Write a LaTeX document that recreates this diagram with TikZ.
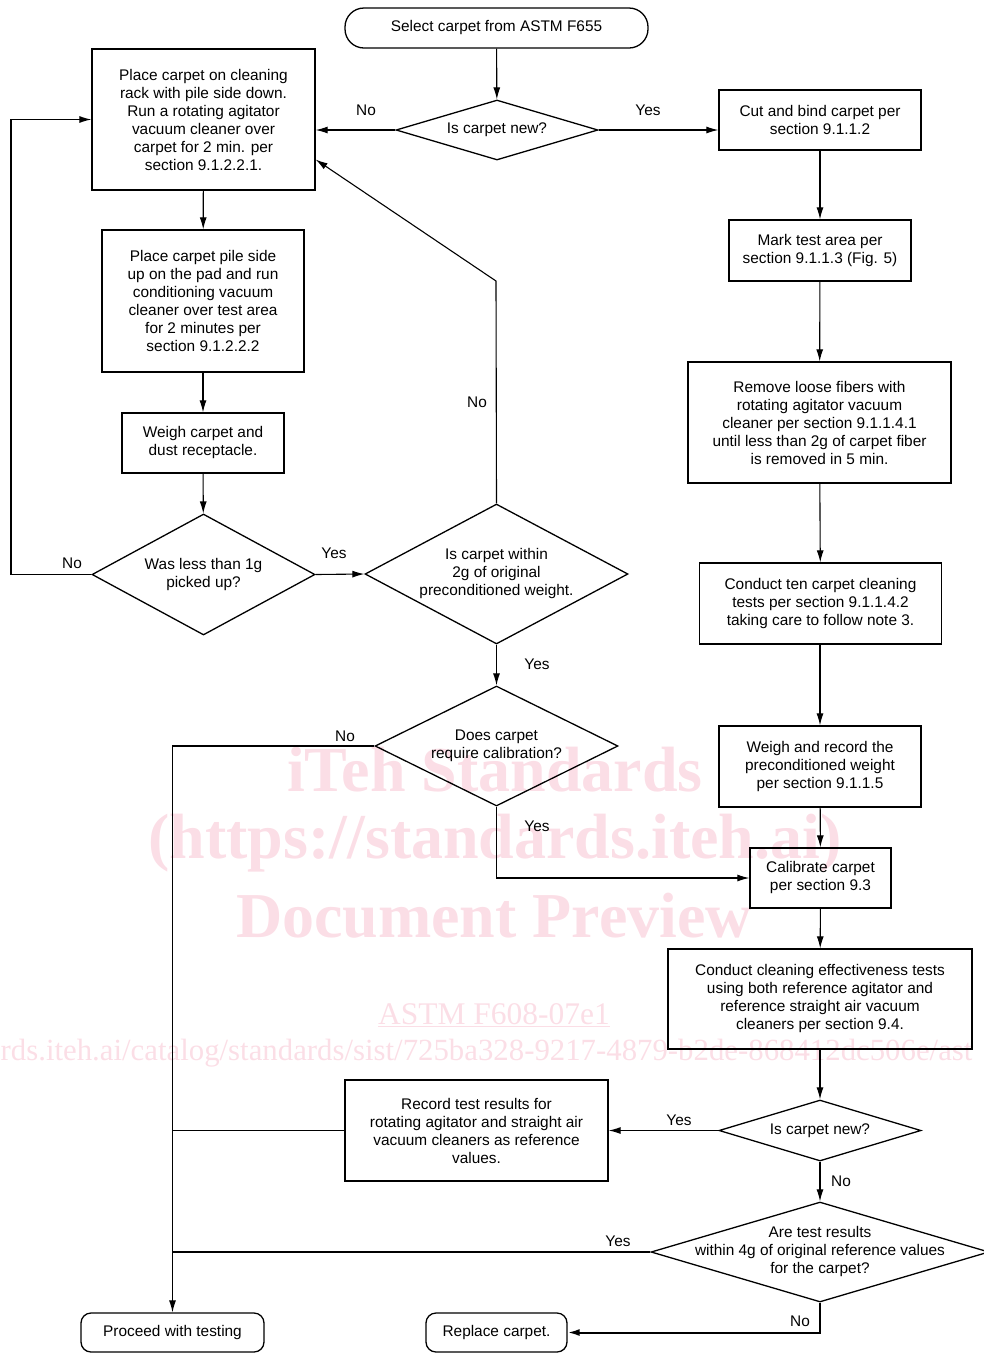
\documentclass[tikz,border=0pt]{standalone}
\usepackage{fontspec}
\setmainfont{Liberation Sans}
\newfontfamily\wmfont{Liberation Serif}
\usetikzlibrary{arrows.meta,shapes.geometric}
\definecolor{wm}{RGB}{251,222,230}
\tikzset{
  box/.style={draw, line width=1.3pt, inner sep=0pt, align=center, font=\fontsize{15.4}{18}\selectfont},
  term/.style={box, rounded corners=19pt},
  termb/.style={box, rounded corners=10pt},
  dia/.style={draw, line width=1.3pt, diamond, inner sep=0pt},
  dtext/.style={align=center, font=\fontsize{15.4}{18}\selectfont},
  conn/.style={line width=1.1pt, -{Latex[length=12pt,width=7pt]}},
  plain/.style={line width=1.1pt},
  lab/.style={font=\fontsize{15.4}{18}\selectfont},
  wmtext/.style={text=wm, font=\wmfont}
}
\begin{document}
\begin{tikzpicture}[x=1pt,y=-1pt]
\useasboundingbox (0,0) rectangle (984,1353);
% watermark
\node[wmtext, font=\wmfont\bfseries\fontsize{64}{64}\selectfont] (wm1) at (495,770) {iTeh Standards};
\node[wmtext, font=\wmfont\bfseries\fontsize{64}{64}\selectfont] (wm2) at (495,843) {(https://standards.iteh.ai)};
\node[wmtext, font=\wmfont\bfseries\fontsize{64}{64}\selectfont] (wm3) at (494,916) {Document Preview};
\node[wmtext, font=\wmfont\fontsize{31.5}{31.5}\selectfont] (wm4) at (494,1015) {\underline{ASTM F608-07e1}};
\node[wmtext, font=\wmfont\fontsize{30.8}{30.8}\selectfont, anchor=west, inner sep=0pt] (wm5) at (0.5,1053) {rds.iteh.ai/catalog/standards/sist/725ba328-9217-4879-b2de-868412dc506e/ast};

% left column
\node[term, minimum width=303pt, minimum height=40pt] (start) at (496.5,28) {Select carpet from ASTM F655};
\node[dia, minimum width=202pt, minimum height=60pt, label={[dtext]center:Is carpet new?}] (d1) at (497,130) {};
\node[box, minimum width=223pt, minimum height=141pt] (a) at (203.5,119.5) {Place carpet on cleaning\\rack with pile side down.\\Run a rotating agitator\\vacuum cleaner over\\carpet for 2 min. per\\section 9.1.2.2.1.};
\node[box, minimum width=202pt, minimum height=142pt] (pile) at (203,301) {Place carpet pile side\\up on the pad and run\\conditioning vacuum\\cleaner over test area\\for 2 minutes per\\section 9.1.2.2.2};
\node[box, minimum width=162pt, minimum height=60pt] (weigh) at (203,443) {Weigh carpet and\\dust receptacle.};
\node[dia, minimum width=223pt, minimum height=121pt, label={[dtext]center:Was less than 1g\\picked up?}] (d2) at (203.5,574.5) {};
\node[dia, minimum width=263pt, minimum height=140pt, label={[dtext]center:Is carpet within\\2g of original\\preconditioned weight.}] (d3) at (496.5,574) {};
\node[dia, minimum width=243pt, minimum height=120pt, label={[dtext]center:Does carpet\\require calibration?}] (d4) at (496.5,746) {};

% right column
\node[box, minimum width=202pt, minimum height=60pt] (cut) at (820,120) {Cut and bind carpet per\\section 9.1.1.2};
\node[box, minimum width=182pt, minimum height=61pt] (mark) at (820,250.5) {Mark test area per\\section 9.1.1.3 (Fig. 5)};
\node[box, minimum width=263pt, minimum height=121pt] (remove) at (819.5,422.5) {Remove loose fibers with\\rotating agitator vacuum\\cleaner per section 9.1.1.4.1\\until less than 2g of carpet fiber\\is removed in 5 min.};
\node[box, minimum width=242pt, minimum height=81pt] (ten) at (820.5,603.5) {Conduct ten carpet cleaning\\tests per section 9.1.1.4.2\\taking care to follow note 3.};
\node[box, minimum width=202pt, minimum height=81pt] (record1) at (820,766.5) {Weigh and record the\\preconditioned weight\\per section 9.1.1.5};
\node[box, minimum width=141pt, minimum height=60pt] (calib) at (820.5,878) {Calibrate carpet\\per section 9.3};
\node[box, minimum width=304pt, minimum height=100pt] (clean) at (820,999) {Conduct cleaning effectiveness tests\\using both reference agitator and\\reference straight air vacuum\\cleaners per section 9.4.};
\node[dia, minimum width=202pt, minimum height=61pt, label={[dtext]center:Is carpet new?}] (d5) at (820,1130.5) {};
\node[dia, minimum width=338pt, minimum height=100pt, label={[dtext]center:Are test results\\within 4g of original reference values\\for the carpet?}] (d6) at (820,1252) {};
\node[box, minimum width=263pt, minimum height=101pt] (rec) at (476.5,1130.5) {Record test results for\\rotating agitator and straight air\\vacuum cleaners as reference\\values.};
\node[termb, minimum width=183pt, minimum height=39pt] (proceed) at (172.5,1332.5) {Proceed with testing};
\node[termb, minimum width=141pt, minimum height=39pt] (replace) at (496.5,1332.5) {Replace carpet.};

\coordinate (lx) at (11,0);
\coordinate (bend) at (496,281);

% connectors
\draw[conn] (start) -- (d1);
\draw[conn] (d1.west) -- (d1.west -| a.east);
\draw[conn] (d1.east) -- (d1.east -| cut.west);
\draw[conn] (cut) -- (mark);
\draw[conn] (mark) -- (remove);
\draw[conn] (remove) -- (ten);
\draw[conn] (ten.south -| record1.north) -- (record1);
\draw[conn] (record1) -- (calib);
\draw[conn] (calib) -- (clean);
\draw[conn] (clean) -- (d5);
\draw[conn] (a) -- (pile);
\draw[conn] (pile) -- (weigh);
\draw[conn] (weigh) -- (d2);
\draw[conn] (d2.west) -- (d2.west -| lx) |- (a.west);
\draw[conn] (d2.east) -- (d3.west);
\draw[conn] (d3.north) -- (bend) -- ([yshift=-40pt]a.east);
\draw[conn] (d3) -- (d4);
\draw[conn] (d4.west) -| (proceed.north);
\draw[conn] (d4.south) |- (calib.west);
\draw[conn] (d5.west) -- (rec.east |- d5.west);
\draw[conn] (d5) -- (d6);
\draw[plain] (d6.west) -- (d6.west -| proceed.north);
\draw[plain] (rec.west) -- (rec.west -| proceed.north);
\draw[conn, line width=2pt] (d6.south) |- (replace.east);

% labels
\node[lab] (l1) at (366,110) {No};
\node[lab] (l2) at (648,110) {Yes};
\node[lab] (l3) at (72,563) {No};
\node[lab] (l4) at (334,553) {Yes};
\node[lab] (l5) at (477,402) {No};
\node[lab] (l6) at (537,664) {Yes};
\node[lab] (l7) at (345,736) {No};
\node[lab] (l8) at (537,826) {Yes};
\node[lab] (l9) at (679,1120) {Yes};
\node[lab] (l10) at (841,1181) {No};
\node[lab] (l11) at (618,1241) {Yes};
\node[lab] (l12) at (800,1321) {No};
\end{tikzpicture}
\end{document}
